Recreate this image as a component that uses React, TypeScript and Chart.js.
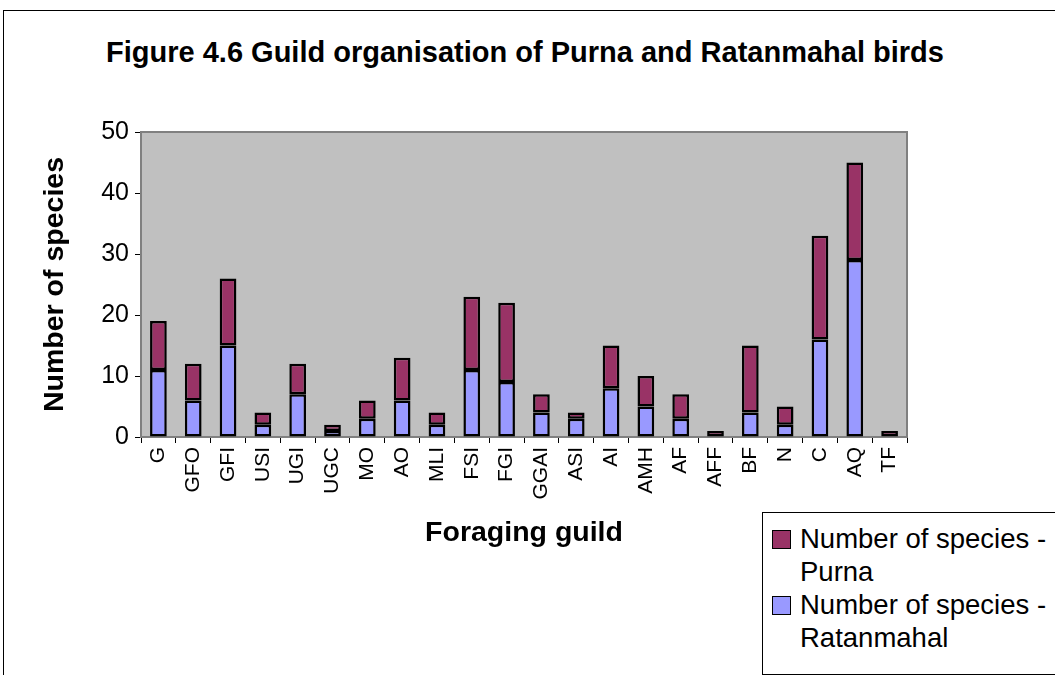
import React, { useEffect, useRef } from "react";
import { Chart, registerables } from "chart.js";

Chart.register(...registerables);

const categories = ["G", "GFO", "GFI", "USI", "UGI", "UGC", "MO", "AO", "MLI", "FSI", "FGI", "GGAI", "ASI", "AI", "AMH", "AF", "AFF", "BF", "N", "C", "AQ", "TF"];
const ratanmahal = [11, 6, 15, 2, 7, 1, 3, 6, 2, 11, 9, 4, 3, 8, 5, 3, 0, 4, 2, 16, 29, 0];
const purna = [8, 6, 11, 2, 5, 1, 3, 7, 2, 12, 13, 3, 1, 7, 5, 4, 1, 11, 3, 17, 16, 1];
const yTicks = [0, 10, 20, 30, 40, 50];

const titleText = "Figure 4.6 Guild organisation of Purna and Ratanmahal birds";
const xTitle = "Foraging guild";
const yTitle = "Number of species";
const seriesPurna = "Number of species - Purna";
const seriesRatan = "Number of species - Ratanmahal";

const PURPLE = "#993366";
const BLUE = "#9999FF";
const FONT = "'Liberation Sans', Arial, Helvetica, sans-serif";

const plotBg = {
  id: "plotBg",
  beforeDatasetsDraw(chart: any) {
    const { ctx, chartArea } = chart;
    ctx.save();
    ctx.fillStyle = "#C0C0C0";
    ctx.fillRect(chartArea.left, chartArea.top, chartArea.right - chartArea.left, chartArea.bottom - chartArea.top);
    ctx.strokeStyle = "#808080";
    ctx.lineWidth = 2;
    ctx.strokeRect(chartArea.left, chartArea.top, chartArea.right - chartArea.left, chartArea.bottom - chartArea.top);
    ctx.restore();
  },
};

export default function App() {
  const ref = useRef<HTMLCanvasElement | null>(null);

  useEffect(() => {
    if (!ref.current) return;
    Chart.defaults.font.family = FONT;
    Chart.defaults.color = "#000";
    const bw = (c: any) => (c.raw === 0 ? 0 : 2.5);
    const chart = new Chart(ref.current, {
      type: "bar",
      data: {
        labels: categories,
        datasets: [
          {
            label: seriesRatan,
            data: ratanmahal,
            backgroundColor: BLUE,
            borderColor: "#000",
            borderWidth: bw,
            borderSkipped: false,
            categoryPercentage: 1,
            barPercentage: 0.48,
          },
          {
            label: seriesPurna,
            data: purna,
            backgroundColor: PURPLE,
            borderColor: "#000",
            borderWidth: bw,
            borderSkipped: false,
            categoryPercentage: 1,
            barPercentage: 0.48,
          },
        ],
      },
      options: {
        responsive: false,
        animation: false,
        layout: { padding: { left: 0, right: 148, top: 132, bottom: 0 } },
        plugins: {
          legend: { display: false },
          tooltip: { enabled: false },
          title: { display: false },
        },
        scales: {
          x: {
            stacked: true,
            offset: true,
            afterFit: (s: any) => {
              s.height = 238;
            },
            grid: { display: true, drawOnChartArea: false, drawTicks: true, tickLength: 6, color: "#000", offset: true },
            border: { display: true, color: "#000", width: 1 },
            ticks: { autoSkip: false, minRotation: 90, maxRotation: 90, padding: 4, color: "#000", font: { size: 21, family: FONT } },
            title: { display: true, text: xTitle, color: "#000", font: { size: 28.5, weight: "bold", family: FONT }, padding: { top: 0, bottom: 124.6 } },
          },
          y: {
            stacked: true,
            min: 0,
            max: 50,
            afterFit: (s: any) => {
              s.width = 141;
            },
            afterBuildTicks: (s: any) => {
              s.ticks = yTicks.map((v) => ({ value: v }));
            },
            grid: { display: true, drawOnChartArea: false, drawTicks: true, tickLength: 6, color: "#000" },
            border: { display: true, color: "#000", width: 1 },
            ticks: { padding: 6, color: "#000", font: { size: 25, family: FONT } },
            title: { display: true, text: yTitle, color: "#000", font: { size: 28.5, weight: "bold", family: FONT }, padding: { top: 37.6, bottom: 0 } },
          },
        },
      },
      plugins: [plotBg],
    });
    return () => chart.destroy();
  }, []);

  const marker = (color: string) => (
    <div style={{ position: "absolute", left: 9, top: 8, width: 17, height: 17, background: color, border: "1.5px solid #000" }} />
  );

  return (
    <div style={{ position: "fixed", left: 0, top: 0, width: 1055, height: 675, overflow: "hidden", background: "#fff", fontFamily: FONT }}>
      <div style={{ position: "absolute", left: 3, top: 10, width: 1200, height: 800, borderLeft: "1px solid #000", borderTop: "1px solid #000" }} />
      <div style={{ position: "absolute", left: 0, width: 1050, top: 34.5, textAlign: "center", fontSize: 29, fontWeight: "bold", lineHeight: "35px", color: "#000", whiteSpace: "nowrap" }}>
        {titleText}
      </div>
      <canvas ref={ref} width={1055} height={675} style={{ position: "absolute", left: 0, top: 0, width: 1055, height: 675 }} />
      <div style={{ position: "absolute", left: 762, top: 512, width: 400, height: 161, border: "1px solid #000", background: "#fff", fontSize: 27.5, lineHeight: "33px", color: "#000" }}>
        <div style={{ position: "absolute", left: 0, top: 9, width: 400, height: 66 }}>
          {marker(PURPLE)}
          <div style={{ position: "absolute", left: 37, top: 0, whiteSpace: "nowrap" }}>
            Number of species -<br />Purna
          </div>
        </div>
        <div style={{ position: "absolute", left: 0, top: 75, width: 400, height: 66 }}>
          {marker(BLUE)}
          <div style={{ position: "absolute", left: 37, top: 0, whiteSpace: "nowrap" }}>
            Number of species -<br />Ratanmahal
          </div>
        </div>
      </div>
    </div>
  );
}
